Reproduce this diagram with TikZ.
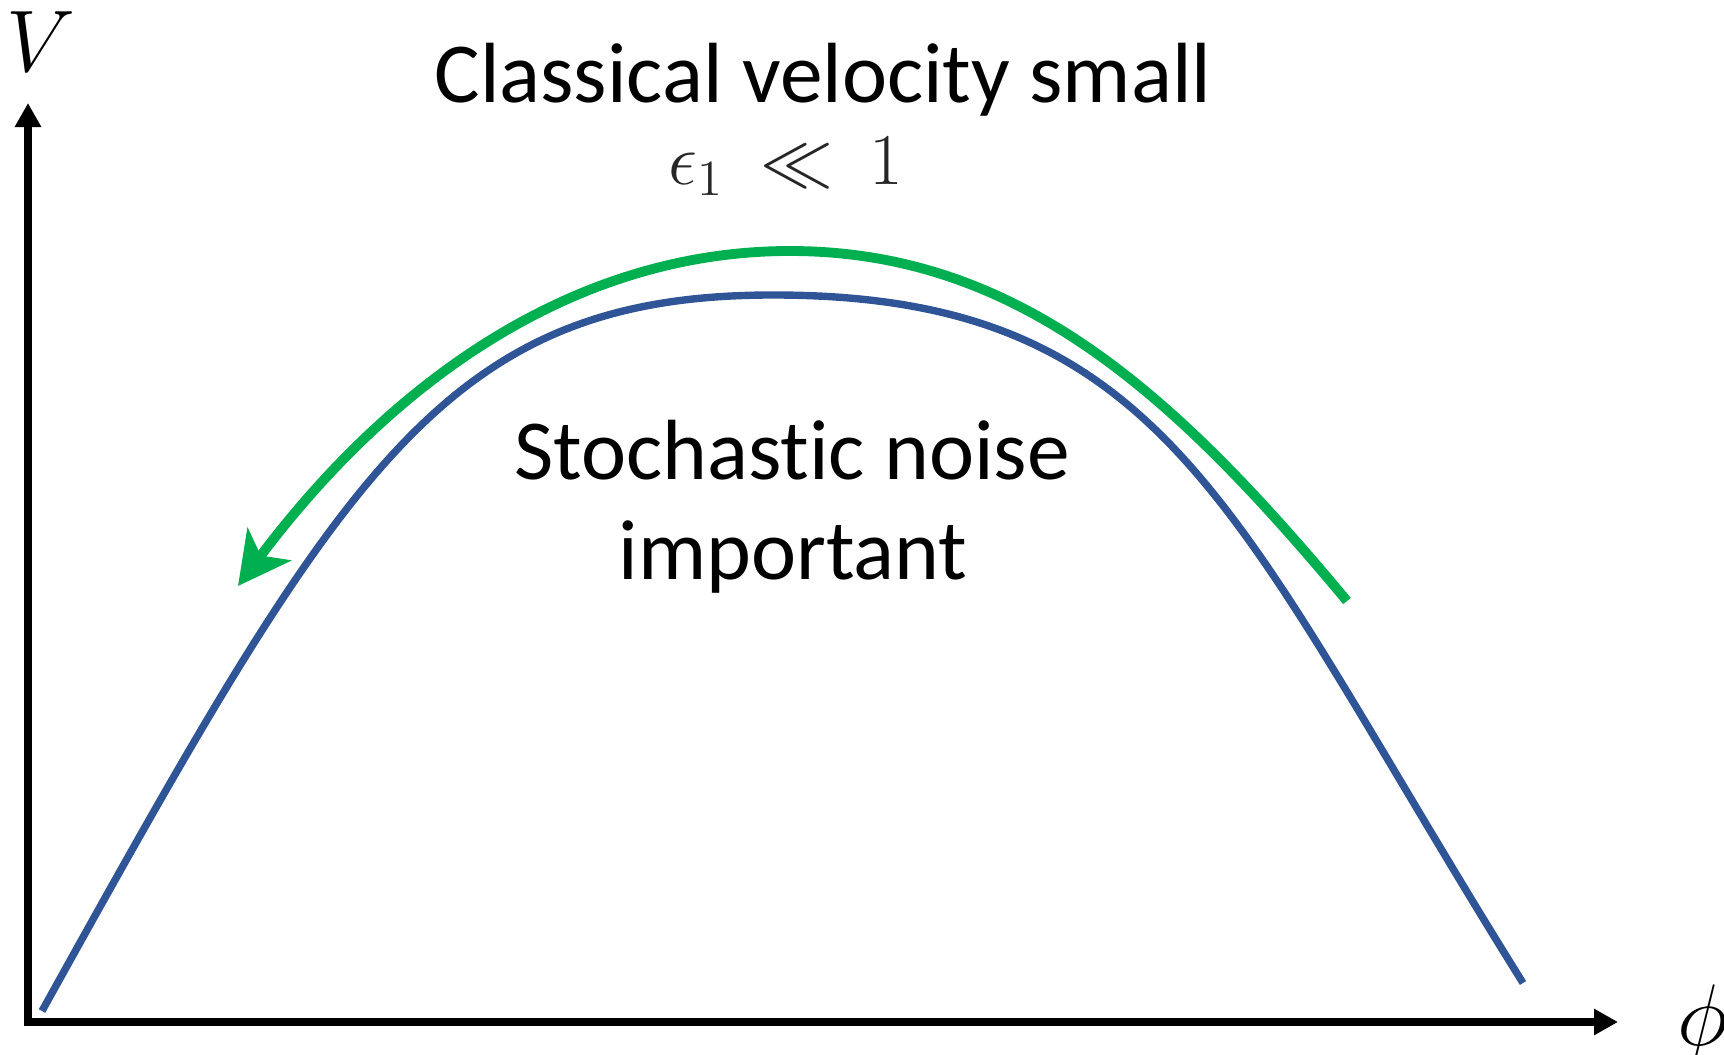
\documentclass[tikz,border=0pt]{standalone}
\usepackage{fontspec}
\setsansfont{Carlito}[Ligatures=NoCommon]
\usetikzlibrary{arrows.meta}
\definecolor{potblue}{HTML}{2F5597}
\definecolor{rollgreen}{HTML}{00B050}
\tikzset{
  potential/.style={potblue, line width=2.1pt, line cap=butt},
  roll/.style={rollgreen, line width=2.8pt, -{Stealth[length=0.52cm,width=0.54cm,inset=0.14cm]}},
  bigtext/.style={font=\sffamily\fontsize{24.3}{29}\selectfont, inner sep=0pt},
  mathlabel/.style={font=\fontsize{24}{28}\selectfont, inner sep=0pt},
}
\begin{document}
\begin{tikzpicture}[x=0.01cm, y=-0.01cm]
\useasboundingbox (0,0) rectangle (1724,1055);
% axes
\coordinate (origin) at (28,1022);
\coordinate (ytip) at (28,103);
\coordinate (xtip) at (1618,1022);
\draw[line width=2pt, line join=miter, {Triangle[length=0.24cm,width=0.25cm]}-{Triangle[length=0.24cm,width=0.25cm]}] (ytip) -- (origin) -- (xtip);
\node[mathlabel] (vlab) at (41,42) {$V$};
\node[mathlabel] (philab) at (1703,1024) {$\phi$};
% potential
\coordinate (vstart) at (42,1011);
\coordinate (vpeak) at (773,295);
\coordinate (vend) at (1523,983);
\draw[potential] (vstart) .. controls (342,471) and (443,295) .. (vpeak)
  .. controls (1173,295) and (1233,519) .. (vend);
% green arrow
\coordinate (gtail) at (1347,601);
\coordinate (gpeak) at (790,251);
\coordinate (gtip) at (238,586);
\draw[roll] (gtail) .. controls (1177,397) and (1020,251) .. (gpeak)
  .. controls (570,251) and (388,386) .. (gtip);
% texts
\node[bigtext, anchor=base] (title) at (823,103) {Classical velocity small};
\node[mathlabel, anchor=base, font=\fontsize{22}{26}\selectfont, text=black!85] (eps) at (786,185) {$\epsilon_1\:\ll\:1$};
\node[bigtext, anchor=base] (noise1) at (792,480) {Stochastic noise};
\node[bigtext, anchor=base] (noise2) at (793,580) {important};
\end{tikzpicture}
\end{document}
